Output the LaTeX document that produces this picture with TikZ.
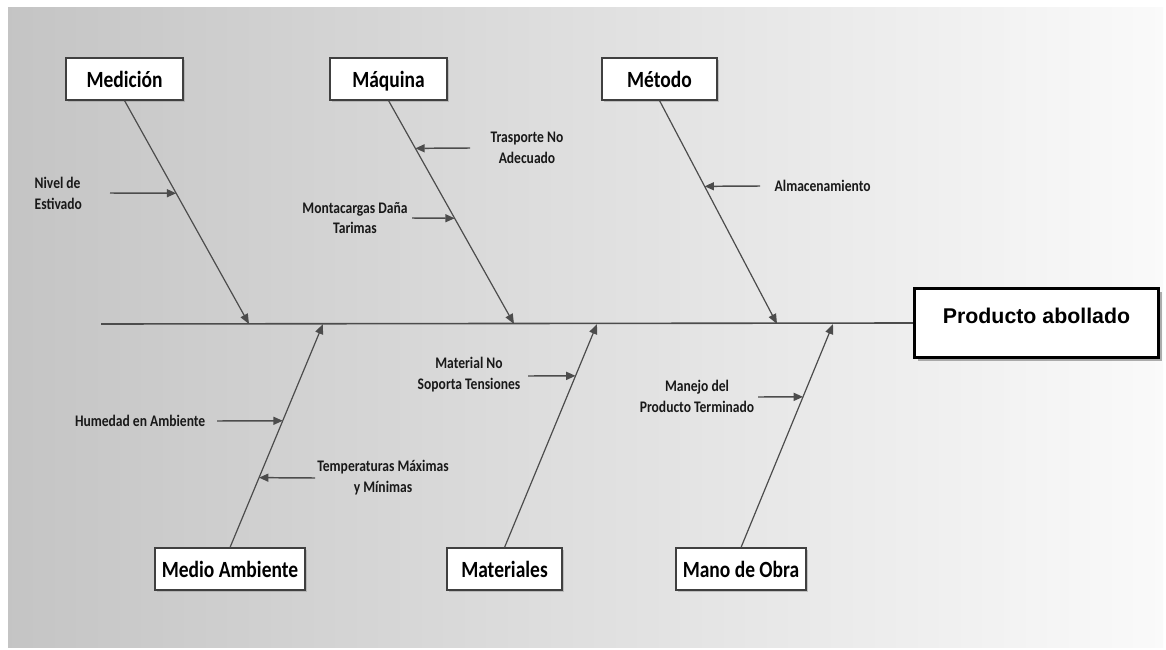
\documentclass[tikz,border=0pt]{standalone}
\usepackage{fontspec}
\newfontfamily\fishfont[FakeStretch=0.84]{Carlito}
\newfontfamily\effectfont{Liberation Sans}
\usetikzlibrary{arrows.meta, calc, positioning, shadows}

\begin{document}
\begin{tikzpicture}[
        x=0.75pt, y=-0.75pt,
        category/.style={
            rectangle, draw=black!75, line width=0.8pt, fill=white,
            minimum height=31.5pt, inner sep=2pt,
            text height=16pt, text depth=3.5pt,
            font=\fishfont\bfseries\fontsize{17.4}{20}\selectfont,
            drop shadow={shadow xshift=1.5pt, shadow yshift=-1.5pt, fill=black!40, opacity=0.5}
        },
        effectblock/.style={
            rectangle, draw=black, line width=2.4pt, fill=white,
            minimum width=183pt, minimum height=51.75pt,
            text height=12pt, text depth=12pt,
            font=\effectfont\bfseries\fontsize{16}{19}\selectfont,
            drop shadow={shadow xshift=2.5pt, shadow yshift=-2.5pt, fill=black!45, opacity=0.7}
        },
        cause/.style={align=center, text=black!90,
            font=\fishfont\bfseries\fontsize{12.1}{15.6}\selectfont},
        bone/.style={draw=black!70, line width=0.9pt, -{Triangle[length=7.5pt,width=6pt]}},
        spine/.style={draw=black!70, line width=1.2pt},
        subarrow/.style={draw=black!70, line width=1.1pt, -{Triangle[length=7pt,width=6pt]}}
    ]

    \useasboundingbox (0,0) rectangle (1166,649);

    % BACKGROUND
    \shade[left color=black!23, right color=black!2] (8,8) rectangle (1163,647);

    % EFFECT
    \node[effectblock] (efecto) at (1036.5,323) {Producto abollado};

    % CATEGORIES (TOP)
    \node[category, minimum width=87.75pt] (medicion) at (124.5,79) {Medición};
    \node[category, minimum width=87.75pt] (maquina) at (388.5,79) {Máquina};
    \node[category, minimum width=86.25pt] (metodo) at (659.5,79) {Método};

    % CATEGORIES (BOTTOM)
    \node[category, minimum width=112.5pt] (ambiente) at (230,569) {Medio Ambiente};
    \node[category, minimum width=86.25pt] (materiales) at (504.5,569) {Materiales};
    \node[category, minimum width=97.5pt] (manoobra) at (741,569) {Mano de Obra};

    % SPINE
    \coordinate (cola) at (101,324);
    \draw[spine] (cola) -- (efecto.west);

    % BONES
    \coordinate (tipmed) at (249,324);
    \coordinate (tipmaq) at (514,324);
    \coordinate (tipmet) at (777,324);
    \coordinate (tipamb) at (323,324);
    \coordinate (tipmat) at (597,324);
    \coordinate (tipmano) at (833,324);
    \draw[bone] (medicion.south) -- (tipmed);
    \draw[bone] (maquina.south) -- (tipmaq);
    \draw[bone] (metodo.south) -- (tipmet);
    \draw[bone] (ambiente.north) -- (tipamb);
    \draw[bone] (materiales.north) -- (tipmat);
    \draw[bone] (manoobra.north) -- (tipmano);

    % CAUSES
    \node[cause, align=left, anchor=west] (nivel) at (30,193) {Nivel de\\Estivado};
    \node[cause] (trasporte) at (527,148) {Trasporte No\\Adecuado};
    \node[cause] (montacargas) at (355,218) {Montacargas Daña\\Tarimas};
    \node[cause, anchor=west] (almacen) at (770,186) {Almacenamiento};
    \node[cause] (material) at (469,375) {Material No\\Soporta Tensiones};
    \node[cause, anchor=east] (humedad) at (210,421) {Humedad en Ambiente};
    \node[cause] (temperatura) at (383,478) {Temperaturas Máximas\\y Mínimas};
    \node[cause] (manejo) at (697,396) {Manejo del\\Producto Terminado};

    % CAUSE ARROWS
    \coordinate (nivel-in) at (110,193);
    \coordinate (trasporte-in) at (470,148);
    \coordinate (montacargas-in) at (412,218);
    \coordinate (almacen-in) at (760,186);
    \coordinate (material-in) at (528,376);
    \coordinate (humedad-in) at (217,421);
    \coordinate (temperatura-in) at (315,478);
    \coordinate (manejo-in) at (758,397);
    \coordinate (nivel-on) at ($(medicion.south)!0.415!(tipmed)$);
    \coordinate (trasporte-on) at ($(maquina.south)!0.214!(tipmaq)$);
    \coordinate (montacargas-on) at ($(maquina.south)!0.527!(tipmaq)$);
    \coordinate (almacen-on) at ($(metodo.south)!0.384!(tipmet)$);
    \coordinate (material-on) at ($(materiales.north)!0.768!(tipmat)$);
    \coordinate (humedad-on) at ($(ambiente.north)!0.567!(tipamb)$);
    \coordinate (temperatura-on) at ($(ambiente.north)!0.3125!(tipamb)$);
    \coordinate (manejo-on) at ($(manoobra.north)!0.674!(tipmano)$);
    \foreach \c in {nivel, trasporte, montacargas, almacen, material, humedad, temperatura, manejo}
        \draw[subarrow] (\c-in) -- (\c-on);

\end{tikzpicture}
\end{document}
